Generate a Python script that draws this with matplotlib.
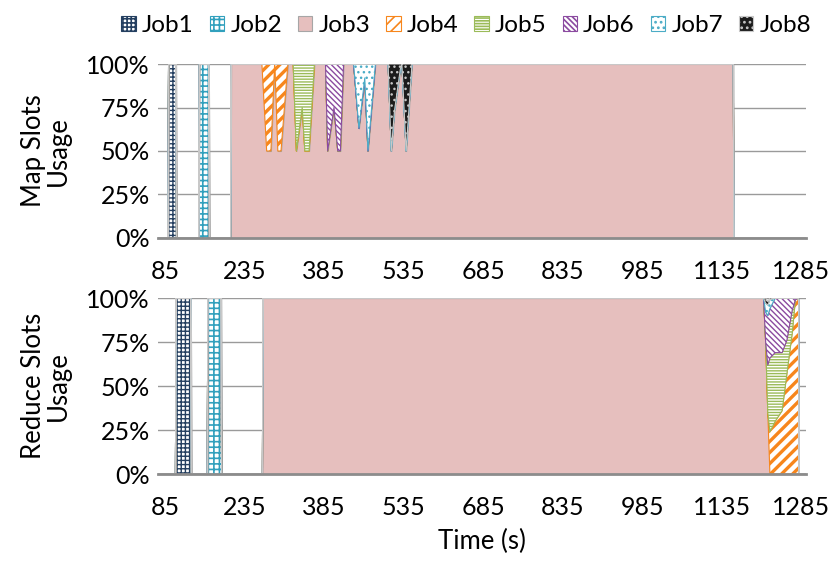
import matplotlib.pyplot as plt
from matplotlib.patches import Patch

plt.rcParams['font.family'] = ['Lato', 'DejaVu Sans']
plt.rcParams['hatch.linewidth'] = 1.2

jobs = ['Job1', 'Job2', 'Job3', 'Job4', 'Job5', 'Job6', 'Job7', 'Job8']
x_ticks = [85, 235, 385, 535, 685, 835, 985, 1135, 1285]
y_ticks = [0, 25, 50, 75, 100]
y_labels = ['0%', '25%', '50%', '75%', '100%']

# map slots (time in s, share in %)
map_t = [72, 91, 92, 106, 107, 149, 150, 168, 169, 209,
         210, 268, 277, 285, 292, 293, 298, 304, 317, 327,
         333, 344, 349, 357, 367, 388, 392, 404, 411, 416,
         422, 441, 451, 462, 468, 482, 506, 512, 518, 529,
         532, 540, 551, 1157, 1158, 1294]
map_job1 = [0, 0, 100, 100] + [0] * 42
map_job2 = [0] * 6 + [100, 100] + [0] * 38
map_job3 = [0] * 10 + [100, 100, 50, 50, 100, 95, 50, 50, 100, 100,
                       50, 75, 50, 50, 100, 100, 50, 75, 50, 50,
                       100, 100, 63, 92, 50, 100, 100, 50, 73, 97,
                       100, 50, 100, 100] + [0, 0]
map_job4 = [0] * 12 + [50, 50, 0, 5, 50, 50] + [0] * 28
map_job5 = [0] * 20 + [50, 25, 50, 50] + [0] * 22
map_job6 = [0] * 26 + [50, 25, 50, 50] + [0] * 16
map_job7 = [0] * 32 + [37, 8, 50] + [0] * 11
map_job8 = [0] * 37 + [50, 27, 3, 0, 50] + [0] * 4

# reduce slots
red_t = [72, 105, 106, 134, 135, 165, 166, 191, 192, 269,
         270, 1214, 1218, 1222, 1226, 1236, 1249, 1258, 1268, 1274,
         1280, 1281, 1294]
red_job1 = [0, 0, 100, 100] + [0] * 19
red_job2 = [0] * 6 + [100, 100] + [0] * 15
red_job3 = [0] * 10 + [100, 100, 75, 35] + [0] * 9
red_job4 = [0] * 14 + [24, 30, 36, 57, 80, 99, 100] + [0, 0]
red_job5 = [0] * 13 + [27, 42, 39, 33, 19, 13, 0, 0] + [0, 0]
red_job6 = [0] * 12 + [17, 28, 28, 31, 31, 24, 7, 1, 0] + [0, 0]
red_job7 = [0] * 12 + [5, 6, 5] + [0] * 8
red_job8 = [0] * 12 + [3, 2, 1] + [0] * 8

# face, hatch colour, hatch, hatch width
styles = [
    ('white', '#243f60', '++++', 1.0),
    ('white', '#31a0bd', '+++', 1.2),
    ('#e6bfbe', '#a6a6a6', None, 1.0),
    ('white', '#f7861c', '///', 2.4),
    ('white', '#9bbb59', '------', 1.0),
    ('white', '#8b4aa0', '\\\\\\\\\\\\', 1.0),
    ('white', '#4bacc6', '...', 1.0),
    ('#1c1c1c', '#c8c8c8', '...', 1.0),
]


def draw(ax, t, series, ylab):
    colls = ax.stackplot(t, *series)
    for coll, (fc, hc, h, hw) in zip(colls, styles):
        coll.set_facecolor(fc)
        coll.set_edgecolor(hc)
        coll.set_linewidth(0.8)
        if h:
            coll.set_hatch(h)
        if hasattr(coll, 'set_hatch_linewidth'):
            coll.set_hatch_linewidth(hw)
    ax.set_xlim(72, 1294)
    ax.set_ylim(0, 100)
    ax.set_yticks(y_ticks)
    ax.set_yticklabels(y_labels)
    ax.set_xticks(x_ticks)
    ax.tick_params(axis='both', length=0, labelsize=18)
    ax.tick_params(axis='x', pad=16)
    ax.tick_params(axis='y', pad=6)
    ax.grid(axis='y', color='#9a9a9a', linewidth=1)
    ax.set_axisbelow(True)
    for s in ['left', 'right', 'top']:
        ax.spines[s].set_visible(False)
    ax.spines['bottom'].set_color('#8c8c8c')
    ax.spines['bottom'].set_linewidth(2)
    ax.set_ylabel(ylab, fontsize=18.5, linespacing=1.0, labelpad=11)


fig = plt.figure(figsize=(8.34, 5.63), dpi=100)
ax1 = fig.add_axes([0.1894, 0.5773, 0.777, 0.309])
ax2 = fig.add_axes([0.1894, 0.158, 0.777, 0.3126])

draw(ax1, map_t, [map_job1, map_job2, map_job3, map_job4,
                  map_job5, map_job6, map_job7, map_job8], 'Map Slots\nUsage')
draw(ax2, red_t, [red_job1, red_job2, red_job3, red_job4,
                  red_job5, red_job6, red_job7, red_job8], 'Reduce Slots\nUsage')
ax2.set_xlabel('Time (s)', fontsize=18.5, labelpad=7)

handles = []
for name, (fc, hc, h, hw) in zip(jobs, styles):
    handles.append(Patch(facecolor=fc, edgecolor=hc, hatch=h, linewidth=0.8, label=name))
fig.legend(handles=handles, loc='upper center', bbox_to_anchor=(0.559, 1.012),
           ncol=8, frameon=False, fontsize=17.5, handlelength=0.6, handleheight=0.6,
           handletextpad=0.25, columnspacing=0.65)

fig.savefig('out.png', dpi=100)
